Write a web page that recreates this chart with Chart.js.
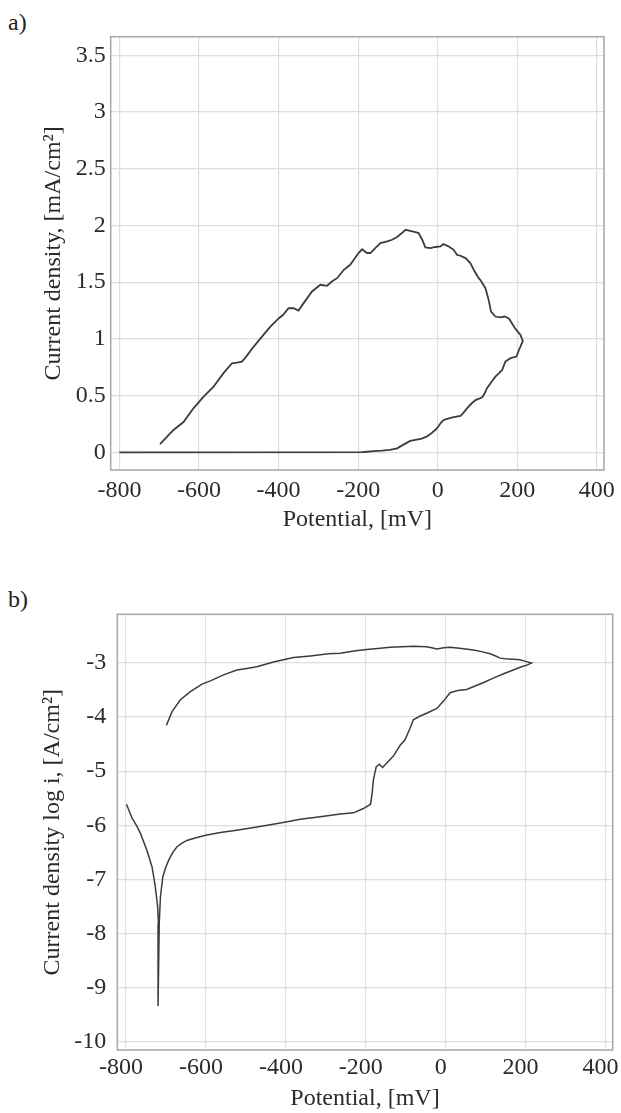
<!DOCTYPE html>
<html lang="en">
<head>
<meta charset="utf-8">
<script src="https://cdn.jsdelivr.net/npm/chart.js"></script>
<style>
    body { margin: 0; background: #fff; width: 621px; height: 1113px; position: relative; overflow: hidden; }
    canvas { position: absolute; left: 0; }
    .tag { position: absolute; left: 8px; font: 24px/24px "Liberation Serif", "Times New Roman", serif; color: #222; }
</style>
</head>
<body>
<div class="tag" style="top:10px">a)</div>
<canvas id="chartA" width="621" height="560" style="top:0"></canvas>
<div class="tag" style="top:587px">b)</div>
<canvas id="chartB" width="621" height="553" style="top:560px"></canvas>

<script>
    // tick labels
    var potTicks = [-800, -600, -400, -200, 0, 200, 400];
    var curTicksA = [0, 0.5, 1, 1.5, 2, 2.5, 3, 3.5];
    var logTicksB = [-10, -9, -8, -7, -6, -5, -4, -3];

    // a) linear current density vs potential
    var potA = [-800, -190, -177, -160, -140, -120, -102, -85, -69, -56, -40, -27, -15, -2, 8, 15, 28, 40, 57, 65, 74, 85, 95, 112, 118, 124, 135, 145, 155, 162, 170, 183, 198, 204, 210, 214,
        208, 195, 179, 168, 158, 145, 134, 128, 120, 107, 103, 92, 82, 70, 57, 49, 40, 28, 14, 7, -6, -18, -31, -39, -48, -56, -69, -81, -90, -102, -115, -127, -144, -157, -169, -178, -190, -199,
        -220, -236, -253, -266, -278, -295, -316, -337, -350, -362, -375, -389, -400, -420, -438, -463, -480, -492, -505, -517, -538, -564, -589, -614, -639, -664, -698];
    var curA = [0, 0.002, 0.005, 0.01, 0.014, 0.022, 0.035, 0.07, 0.10, 0.11, 0.12, 0.14, 0.17, 0.21, 0.26, 0.285, 0.30, 0.31, 0.32, 0.35, 0.39, 0.43, 0.46, 0.485, 0.52, 0.565, 0.62, 0.667, 0.70, 0.726, 0.80, 0.83, 0.844, 0.90, 0.95, 0.98,
        1.035, 1.09, 1.18, 1.197, 1.19, 1.197, 1.24, 1.344, 1.447, 1.52, 1.535, 1.60, 1.668, 1.712, 1.733, 1.74, 1.785, 1.815, 1.836, 1.815, 1.81, 1.80, 1.806, 1.874, 1.933, 1.942, 1.953, 1.962, 1.933, 1.898, 1.874, 1.859, 1.845, 1.80, 1.757, 1.757, 1.79, 1.757,
        1.653, 1.609, 1.535, 1.506, 1.468, 1.477, 1.418, 1.315, 1.25, 1.27, 1.27, 1.21, 1.18, 1.11, 1.035, 0.93, 0.85, 0.80, 0.79, 0.785, 0.70, 0.576, 0.488, 0.388, 0.267, 0.197, 0.073];

    // b) log current density vs potential
    var potB = [-799, -785, -774, -764, -748, -735, -727, -721, -719, -720, -717, -714, -708, -701, -693, -683, -673, -660, -648, -625, -598, -560, -523, -480, -439, -400, -364, -314, -264, -231, -206, -188,
        -184, -181, -174, -166, -158, -145, -131, -114, -102, -90, -81, -64, -45, -22, -5, 11, 30, 52, 69, 95, 119, 145, 169, 190, 203, 215,
        200, 186, 169, 150, 136, 125, 111, 90, 69, 40, 11, -5, -22, -35, -48, -81, -110, -139, -170, -198, -230, -264, -293, -339, -381, -431, -473, -498, -523, -556, -589, -610, -639, -664, -685, -699];
    var logB = [-5.61, -5.87, -6.00, -6.15, -6.46, -6.77, -7.13, -7.50, -7.81, -9.34, -7.81, -7.32, -6.95, -6.78, -6.64, -6.50, -6.40, -6.33, -6.28, -6.23, -6.18, -6.13, -6.09, -6.04, -5.99, -5.94, -5.89, -5.84, -5.79, -5.77, -5.69, -5.61,
        -5.40, -5.16, -4.92, -4.87, -4.93, -4.83, -4.72, -4.52, -4.42, -4.22, -4.05, -3.98, -3.92, -3.84, -3.70, -3.55, -3.51, -3.49, -3.44, -3.36, -3.28, -3.20, -3.13, -3.07, -3.04, -3.00,
        -2.97, -2.94, -2.93, -2.92, -2.91, -2.87, -2.83, -2.79, -2.76, -2.73, -2.71, -2.72, -2.74, -2.72, -2.70, -2.69, -2.70, -2.71, -2.73, -2.75, -2.78, -2.82, -2.83, -2.87, -2.90, -2.98, -3.07, -3.10, -3.13, -3.22, -3.33, -3.39, -3.53, -3.68, -3.90, -4.15];

    var serif = '"Liberation Serif", "Times New Roman", serif';
    var ink = '#2b2b2b';

    // grey box round the plot area
    var frame = {
        id: 'frame',
        beforeDatasetsDraw: function (chart) {
            var a = chart.chartArea, ctx = chart.ctx;
            ctx.save();
            ctx.strokeStyle = '#ababab';
            ctx.lineWidth = 1.6;
            ctx.strokeRect(a.left, a.top, a.right - a.left, a.bottom - a.top);
            ctx.restore();
        }
    };

    function points(xs, ys) {
        return xs.map(function (x, i) { return {x: x, y: ys[i]}; });
    }

    function fmt(v) { return String(+v.toFixed(2)); }

    function fixedTicks(list) {
        return function (sc) { sc.ticks = list.map(function (v) { return {value: v}; }); };
    }

    function buildChart(id, xs, ys, s) {
        return new Chart(document.getElementById(id), {
            type: 'scatter',
            data: {
                datasets: [{
                    data: points(xs, ys),
                    showLine: true,
                    borderColor: '#3c3c3c',
                    borderWidth: s.lineWidth,
                    pointRadius: 0,
                    tension: 0
                }]
            },
            options: {
                responsive: false,
                animation: false,
                layout: { padding: { top: s.top, right: s.right, left: 0, bottom: 0 } },
                plugins: { legend: { display: false }, tooltip: { enabled: false } },
                scales: {
                    x: {
                        min: s.xMin, max: s.xMax,
                        afterBuildTicks: fixedTicks(potTicks),
                        grid: { color: '#dedede', lineWidth: 1.2, drawTicks: false },
                        border: { display: false },
                        ticks: {
                            maxRotation: 0, autoSkip: false,
                            padding: s.xPad, labelOffset: s.xLabelOffset, color: ink,
                            font: { family: serif, size: 24 }, callback: fmt
                        },
                        title: {
                            display: true, text: 'Potential, [mV]', color: ink,
                            font: { family: serif, size: 24 }, padding: { top: 0, bottom: s.xTitlePad }
                        },
                        afterFit: function (sc) { sc.height = s.xHeight; sc.paddingLeft = 0; sc.paddingRight = 0; }
                    },
                    y: {
                        min: s.yMin, max: s.yMax,
                        afterBuildTicks: fixedTicks(s.yTicks),
                        grid: { color: '#dedede', lineWidth: 1.2, drawTicks: false },
                        border: { display: false },
                        ticks: {
                            padding: s.yPad, color: ink,
                            font: { family: serif, size: 24 }, callback: fmt
                        },
                        title: {
                            display: true, text: s.yTitle, color: ink,
                            font: { family: serif, size: 24 }, padding: { top: s.yTitlePad, bottom: 0 }
                        },
                        afterFit: function (sc) { sc.width = s.yWidth; sc.paddingTop = 0; sc.paddingBottom = 0; }
                    }
                }
            },
            plugins: [frame]
        });
    }

    buildChart('chartA', potA, curA, {
        xMin: -822, xMax: 418, yMin: -0.156, yMax: 3.664, yTicks: curTicksA,
        yTitle: 'Current density, [mA/cm²]',
        top: 36.7, right: 17, xHeight: 90, yWidth: 110.7,
        xPad: 6, xLabelOffset: 0, xTitlePad: 26, yPad: 5, yTitlePad: 39, lineWidth: 1.8
    });

    buildChart('chartB', potB, logB, {
        xMin: -822, xMax: 418, yMin: -10.153, yMax: -2.1, yTicks: logTicksB,
        yTitle: 'Current density log i, [A/cm²]',
        top: 54.3, right: 8.3, xHeight: 63, yWidth: 117.3,
        xPad: 3, xLabelOffset: -5, xTitlePad: 0, yPad: 11, yTitlePad: 38.6, lineWidth: 1.5
    });
</script>
</body>
</html>
